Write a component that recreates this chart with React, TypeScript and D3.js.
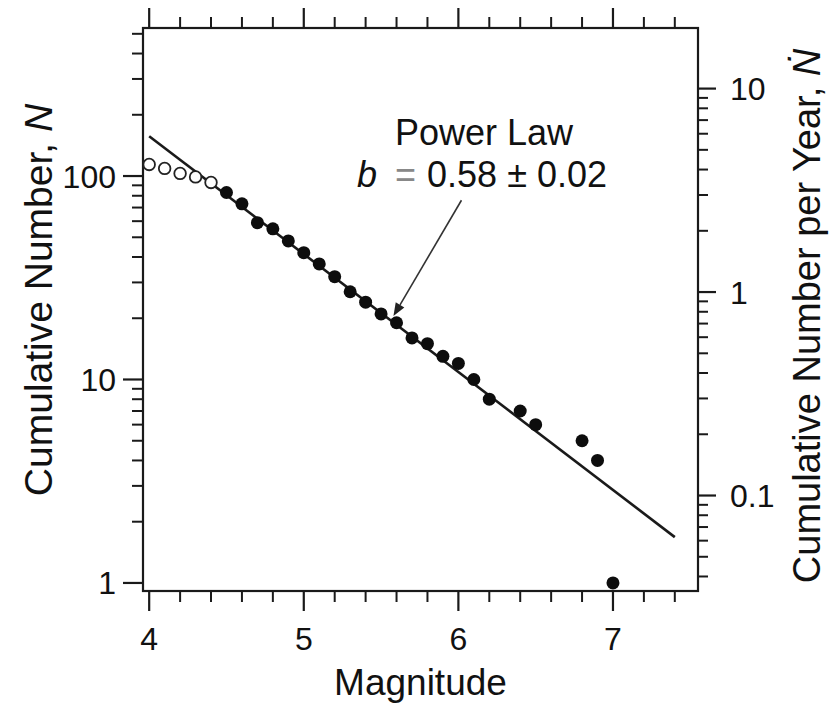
import React from "react";
import * as d3 from "d3";

// ---- data ----
const openMagnitudes = [4.0, 4.1, 4.2, 4.3, 4.4];
const openCounts = [114, 109, 103, 99, 93];
const filledMagnitudes = [4.5, 4.6, 4.7, 4.8, 4.9, 5.0, 5.1, 5.2, 5.3, 5.4, 5.5, 5.6, 5.7, 5.8, 5.9, 6.0, 6.1, 6.2, 6.4, 6.5, 6.8, 6.9, 7.0];
const filledCounts = [83, 73, 59, 55, 48, 42, 37, 32, 27, 24, 21, 19, 16, 15, 13, 12, 10, 8, 7, 6, 5, 4, 1];
const powerLawMagnitudes = [4.0, 7.4];
const powerLawCounts = [157, 1.68];
const years = 26.9;
const xMajorTicks = [4, 5, 6, 7];
const xMinorTicks = [4.2, 4.4, 4.6, 4.8, 5.2, 5.4, 5.6, 5.8, 6.2, 6.4, 6.6, 6.8, 7.2, 7.4];
const leftMajorTicks = [1, 10, 100];
const leftTickLabels = ["1", "10", "100"];
const rightMajorTicks = [0.1, 1, 10];
const rightTickLabels = ["0.1", "1", "10"];
const xLabel = "Magnitude";
const leftLabel = "Cumulative Number, ";
const rightLabel = "Cumulative Number per Year, ";
const annotationTitle = "Power Law";
const annotationValue = "0.58 ± 0.02";

const W = 829, H = 703;
const L = 143, R = 698, T = 28, B = 591;
const FONT = "'Liberation Sans', Arial, Helvetica, sans-serif";

export default function App() {
  const x = d3.scaleLinear().domain([3.96, 7.55]).range([L, R]);
  const yL = d3.scaleLog().domain([0.913, 534]).range([B, T]);
  const yR = d3.scaleLog().domain([0.913 / years, 534 / years]).range([B, T]);

  const minorLog = (lo: number, hi: number) => {
    const out: number[] = [];
    for (let e = -3; e <= 3; e++) {
      for (let m = 2; m <= 9; m++) {
        const v = m * Math.pow(10, e);
        if (v > lo && v < hi) out.push(v);
      }
    }
    return out;
  };
  const [l0, l1] = yL.domain();
  const [r0, r1] = yR.domain();
  const leftMinor = minorLog(l0, l1);
  const rightMinor = minorLog(r0, r1);

  const line = d3.line<[number, number]>().x(d => x(d[0])).y(d => yL(d[1]));
  const lawPts: [number, number][] = powerLawMagnitudes.map((m, i) => [m, powerLawCounts[i]]);

  const stroke = "#1a1a1a";
  const MAJ = 20, MIN = 11;

  // arrow (data coords)
  const arrowFrom = [6.02, 76];
  const arrowTo = [5.58, 20.5];
  const ax0 = x(arrowFrom[0]), ay0 = yL(arrowFrom[1]);
  const ax1 = x(arrowTo[0]), ay1 = yL(arrowTo[1]);
  const ang = Math.atan2(ay1 - ay0, ax1 - ax0);
  const hl = 13, hw = 5;
  const bx = ax1 - hl * Math.cos(ang), by = ay1 - hl * Math.sin(ang);
  const head = `M${ax1},${ay1} L${bx - hw * Math.sin(ang)},${by + hw * Math.cos(ang)} L${bx + hw * Math.sin(ang)},${by - hw * Math.cos(ang)} Z`;

  const annX = x(5.59);
  const annY = yL(142);

  return (
    <svg width={W} height={H} style={{ position: "absolute", left: 0, top: 0, background: "#fff" }} fontFamily={FONT}>
      <rect x={0} y={0} width={W} height={H} fill="#fff" />
      {/* frame */}
      <rect x={L} y={T} width={R - L} height={B - T} fill="none" stroke={stroke} strokeWidth={2.2} />

      {/* x ticks bottom and top */}
      {xMajorTicks.map(t => (
        <g key={"xm" + t}>
          <line x1={x(t)} x2={x(t)} y1={B} y2={B + MAJ} stroke={stroke} strokeWidth={2.2} />
          <line x1={x(t)} x2={x(t)} y1={T} y2={T - MAJ} stroke={stroke} strokeWidth={2.2} />
          <text x={x(t)} y={B + 59} fontSize={32} textAnchor="middle" fill="#111">{t}</text>
        </g>
      ))}
      {xMinorTicks.map(t => (
        <g key={"xn" + t}>
          <line x1={x(t)} x2={x(t)} y1={B} y2={B + MIN} stroke={stroke} strokeWidth={2} />
          <line x1={x(t)} x2={x(t)} y1={T} y2={T - MIN} stroke={stroke} strokeWidth={2} />
        </g>
      ))}

      {/* left axis ticks */}
      {leftMajorTicks.map((t, i) => (
        <g key={"lm" + t}>
          <line x1={L} x2={L - MAJ} y1={yL(t)} y2={yL(t)} stroke={stroke} strokeWidth={2.2} />
          <text x={L - 27} y={yL(t)} dy="0.36em" fontSize={32} textAnchor="end" fill="#111">{leftTickLabels[i]}</text>
        </g>
      ))}
      {leftMinor.map(t => (
        <line key={"ln" + t} x1={L} x2={L - MIN} y1={yL(t)} y2={yL(t)} stroke={stroke} strokeWidth={2} />
      ))}

      {/* right axis ticks */}
      {rightMajorTicks.map((t, i) => (
        <g key={"rm" + t}>
          <line x1={R} x2={R + MAJ - 2} y1={yR(t)} y2={yR(t)} stroke={stroke} strokeWidth={2.2} />
          <text x={R + 32} y={yR(t)} dy="0.36em" fontSize={32} textAnchor="start" fill="#111">{rightTickLabels[i]}</text>
        </g>
      ))}
      {rightMinor.map(t => (
        <line key={"rn" + t} x1={R} x2={R + MIN - 1} y1={yR(t)} y2={yR(t)} stroke={stroke} strokeWidth={2} />
      ))}

      {/* power law line */}
      <path d={line(lawPts) || ""} fill="none" stroke={stroke} strokeWidth={2.6} />

      {/* data points */}
      {openMagnitudes.map((m, i) => (
        <circle key={"o" + i} cx={x(m)} cy={yL(openCounts[i])} r={5.8} fill="#fff" stroke="#222" strokeWidth={1.8} />
      ))}
      {filledMagnitudes.map((m, i) => (
        <circle key={"f" + i} cx={x(m)} cy={yL(filledCounts[i])} r={6.5} fill="#0d0d0d" />
      ))}

      {/* annotation */}
      <text x={annX} y={annY} fontSize={36} fill="#111">{annotationTitle}</text>
      <text x={357} y={annY + 42} fontSize={36} fill="#111">
        <tspan fontStyle="italic">b</tspan>
        <tspan dx={18} fill="#888">=</tspan>
        <tspan dx={11}>{annotationValue}</tspan>
      </text>
      <line x1={ax0} y1={ay0} x2={bx} y2={by} stroke="#333" strokeWidth={1.6} />
      <path d={head} fill="#222" />

      {/* axis titles */}
      <text x={(L + R) / 2} y={695} fontSize={37} textAnchor="middle" fill="#111">{xLabel}</text>
      <text transform={`translate(52,300) rotate(-90)`} fontSize={39} textAnchor="middle" fill="#111">
        {leftLabel}<tspan fontStyle="italic">N</tspan>
      </text>
      <text transform={`translate(820,316) rotate(-90)`} fontSize={38} textAnchor="middle" fill="#111">
        {rightLabel}<tspan fontStyle="italic">Ṅ</tspan>
      </text>
    </svg>
  );
}
